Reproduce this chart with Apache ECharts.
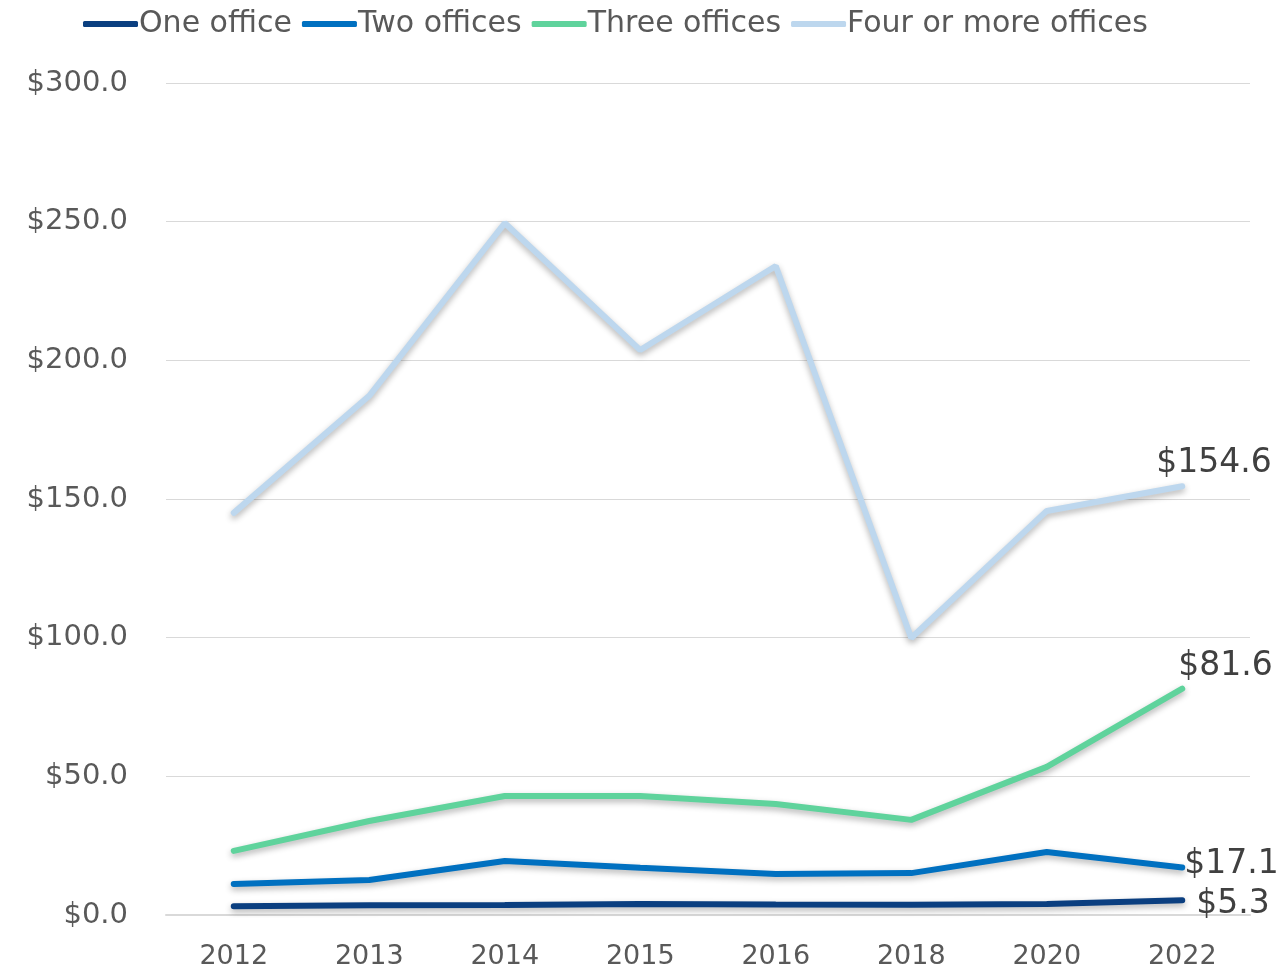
<!DOCTYPE html>
<html>
<head>
<meta charset="utf-8">
<script src="https://cdn.jsdelivr.net/npm/echarts@6/dist/echarts.min.js"></script>
<style>
  html, body { margin: 0; padding: 0; background: #fff; }
  #chart { width: 1288px; height: 971px; }
</style>
</head>
<body>
<div id="chart"></div>
<script>
const years = ['2012', '2013', '2014', '2015', '2016', '2018', '2020', '2022']
const oneOffice = [3.2, 3.5, 3.6, 4.0, 3.8, 3.7, 4.0, 5.3]
const twoOffices = [11.2, 12.6, 19.5, 17.0, 14.8, 15.1, 22.7, 17.1]
const threeOffices = [23.1, 33.9, 42.9, 42.9, 40.0, 34.3, 53.4, 81.6]
const fourOffices = [145.0, 187.2, 249.5, 203.7, 234.0, 99.9, 145.7, 154.6]

const font = '"DejaVu Sans", sans-serif'

function makeSeries(name, color, data, offset) {
  return {
    name: name,
    type: 'line',
    symbol: 'none',
    data: data,
    lineStyle: {
      color: color,
      width: 6,
      cap: 'round',
      shadowColor: 'rgba(0,0,0,0.3)',
      shadowBlur: 6,
      shadowOffsetY: 3
    },
    itemStyle: { color: color },
    endLabel: {
      show: true,
      offset: offset,
      distance: 4,
      formatter: p => '$' + p.value.toFixed(1),
      fontSize: 33,
      color: '#404040',
      fontFamily: font
    }
  }
}

const chart = echarts.init(document.getElementById('chart'))
chart.setOption({
  animation: false,
  legend: {
    top: 4,
    left: 78,
    itemWidth: 55,
    itemHeight: 6,
    itemGap: 10,
    textStyle: { fontSize: 30, color: '#595959', fontFamily: font, padding: [0, 0, 0, -4] },
    data: [
      { name: 'One office', icon: 'roundRect' },
      { name: 'Two offices', icon: 'roundRect' },
      { name: 'Three offices', icon: 'roundRect' },
      { name: 'Four or more offices', icon: 'roundRect' }
    ]
  },
  grid: { left: 166, right: 38, top: 83, bottom: 56 },
  xAxis: {
    type: 'category',
    data: years,
    boundaryGap: true,
    axisLine: { lineStyle: { color: '#d9d9d9', width: 2 } },
    axisTick: { show: false },
    axisLabel: { fontSize: 27, color: '#595959', fontFamily: font, margin: 28 }
  },
  yAxis: {
    type: 'value',
    min: 0,
    max: 300,
    interval: 50,
    axisLine: { show: false },
    axisTick: { show: false },
    axisLabel: {
      fontSize: 29,
      color: '#595959',
      fontFamily: font,
      margin: 38,
      formatter: v => '$' + v.toFixed(1)
    },
    splitLine: { lineStyle: { color: '#d9d9d9', width: 1 } }
  },
  series: [
    makeSeries('One office', '#0b3f80', oneOffice, [10, 4]),
    makeSeries('Two offices', '#0070c0', twoOffices, [-2, -3]),
    makeSeries('Three offices', '#5fd39c', threeOffices, [-8, -22]),
    makeSeries('Four or more offices', '#bdd7ee', fourOffices, [-30, -23])
  ]
})
</script>
</body>
</html>
